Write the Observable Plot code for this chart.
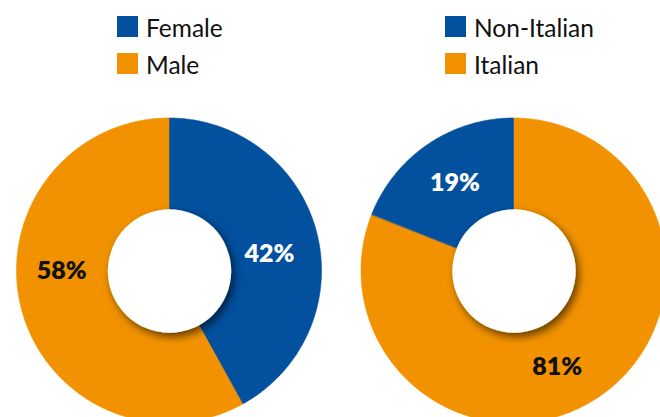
<!DOCTYPE html>
<html><head><meta charset="utf-8">
<script src="https://cdn.jsdelivr.net/npm/d3@7"></script>
<script src="https://cdn.jsdelivr.net/npm/@observablehq/plot@0.6"></script>
<style>
html,body{margin:0;padding:0;background:#fff;overflow:hidden;}
body{font-family:Lato,"Noto Sans",sans-serif;width:660px;height:417px;}
#legend{position:relative;height:92px;}
.lg{position:absolute;top:16px;}
.row{display:flex;align-items:center;height:21px;margin-bottom:15.6px;font-size:24.5px;color:#111;white-space:nowrap;}
.row span{position:relative;top:1px;}
.sw{width:21px;height:21px;margin-right:8px;flex:none;}
svg{display:block}
</style></head><body>
<div id="legend"></div>
<div id="chart"></div>
<script>
// ---- data ----
const genderCategories = ["Female", "Male"];
const genderValues = [42, 58];
const originCategories = ["Italian", "Non-Italian"];
const originValues = [81, 19];
const leftLegend = ["Female", "Male"];
const rightLegend = ["Non-Italian", "Italian"];

// ---- styles ----
const BLUE = "#02509e", ORANGE = "#f39200";
const colorOf = {"Female": BLUE, "Male": ORANGE, "Non-Italian": BLUE, "Italian": ORANGE};
// small label nudges (px) to match the reference placement
const nudge = {"Female": [-2, 9], "Male": [-6, -26], "Non-Italian": [0, -1], "Italian": [-16, 9]};

// ---- legend (HTML) ----
const legend = d3.select("#legend");
[[leftLegend, 117], [rightLegend, 445]].forEach(([items, left]) => {
  const g = legend.append("div").attr("class", "lg").style("left", left + "px");
  items.forEach(c => {
    const r = g.append("div").attr("class", "row");
    r.append("div").attr("class", "sw").style("background", colorOf[c]);
    r.append("span").text(c);
  });
});

// ---- geometry (unit radius pies) ----
const R = 152.5;             // px per unit
const H = 325;               // svg height
const gap = 344.5 / R;       // distance between pie centres in units
const pies = [
  {cx: 0, cats: genderCategories, vals: genderValues},
  {cx: gap, cats: originCategories, vals: originValues}
];
const pts = [], labels = [];
pies.forEach((p, pi) => {
  const total = d3.sum(p.vals);
  let a = 0;
  p.cats.forEach((c, i) => {
    const a0 = a, a1 = a + p.vals[i] / total * 2 * Math.PI;
    a = a1;
    const n = Math.max(2, Math.ceil((a1 - a0) / (Math.PI / 360)));
    for (let k = 0; k <= n; k++) {
      const t = a0 + (a1 - a0) * k / n;
      pts.push({key: pi + c, cat: c,
        xi: p.cx, yi: 0,
        xo: p.cx + Math.sin(t), yo: Math.cos(t)});
    }
    const m = (a0 + a1) / 2, lr = 0.69;
    labels.push({cat: c, x: p.cx + lr * Math.sin(m), y: lr * Math.cos(m), text: p.vals[i] + "%"});
  });
});

const labelMarks = labels.map(d => Plot.text([d], {
  x: "x", y: "y", text: "text",
  dx: nudge[d.cat][0], dy: nudge[d.cat][1],
  fill: colorOf[d.cat] === BLUE ? "white" : "#111",
  fontSize: 25, fontWeight: 800, fontFamily: "Lato"
}));

const chart = Plot.plot({
  width: 660, height: H,
  margin: 0,
  x: {domain: [-169 / R, (660 - 169) / R], axis: null},
  y: {domain: [-(H - 178.5) / R, 178.5 / R], axis: null},
  color: {domain: ["Female", "Male", "Non-Italian", "Italian"], range: [BLUE, ORANGE, BLUE, ORANGE]},
  style: {background: "white"},
  marks: [
    Plot.area(pts, {x1: "xi", y1: "yi", x2: "xo", y2: "yo", z: "key", fill: "cat", stroke: "cat", strokeWidth: 0.6}),
    Plot.dot(pies, {x: "cx", y: () => 0, r: 61.7, fill: "white", stroke: null}),
    ...labelMarks
  ]
});
const svg = d3.select(chart);
const f = svg.insert("defs", ":first-child").append("filter").attr("id", "sh")
  .attr("x", "-30%").attr("y", "-30%").attr("width", "160%").attr("height", "160%");
f.append("feDropShadow").attr("dx", 3).attr("dy", 4).attr("stdDeviation", 4)
  .attr("flood-color", "#000").attr("flood-opacity", 0.6);
svg.selectAll('g[aria-label="dot"]').attr("filter", "url(#sh)");
document.getElementById("chart").appendChild(chart);
</script>
</body></html>
